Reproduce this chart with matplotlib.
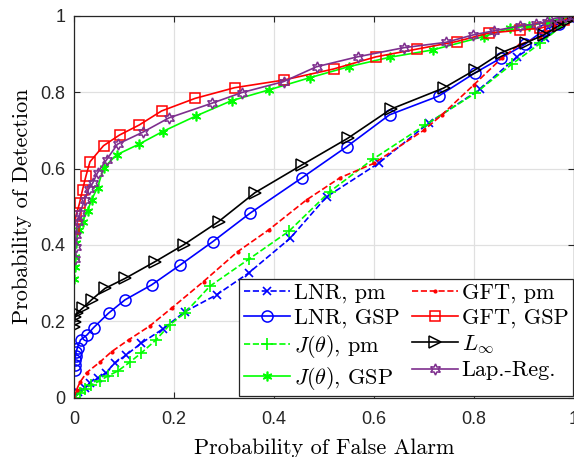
import numpy as np
import matplotlib
matplotlib.use("Agg")
import matplotlib.pyplot as plt

plt.rcParams['mathtext.fontset'] = 'cm'
plt.rcParams['font.family'] = ['Liberation Sans', 'DejaVu Sans']

# ROC curves (false alarm, detection)
lnr_pm_x = [0, 0.007, 0.021, 0.031, 0.047, 0.064, 0.081, 0.104, 0.134, 0.177, 0.222,
            0.285, 0.349, 0.432, 0.505, 0.609, 0.709, 0.812, 0.885, 0.942, 1.0]
lnr_pm_y = [0, 0.015, 0.024, 0.037, 0.050, 0.065, 0.090, 0.111, 0.142, 0.179, 0.225,
            0.269, 0.326, 0.417, 0.526, 0.614, 0.719, 0.808, 0.892, 0.942, 1.0]

lnr_gsp_x = [0.001, 0.001, 0.002, 0.003, 0.004, 0.007, 0.013, 0.026, 0.039, 0.069, 0.102,
             0.155, 0.212, 0.277, 0.352, 0.455, 0.545, 0.631, 0.729, 0.802, 0.853,
             0.902, 0.94, 0.97, 1.0]
lnr_gsp_y = [0.072, 0.085, 0.098, 0.109, 0.119, 0.131, 0.151, 0.164, 0.183, 0.221, 0.256,
             0.295, 0.347, 0.408, 0.483, 0.575, 0.657, 0.741, 0.790, 0.851, 0.889,
             0.926, 0.963, 0.98, 1.0]

j_pm_x = [0, 0.011, 0.021, 0.034, 0.051, 0.067, 0.087, 0.111, 0.134, 0.164, 0.191,
          0.222, 0.272, 0.349, 0.430, 0.511, 0.597, 0.702, 0.802, 0.875, 0.932, 1.0]
j_pm_y = [0, 0.011, 0.021, 0.033, 0.043, 0.056, 0.069, 0.092, 0.116, 0.151, 0.190,
          0.222, 0.292, 0.362, 0.436, 0.539, 0.624, 0.714, 0.797, 0.873, 0.928, 1.0]

j_gsp_x = [0, 0.001, 0.001, 0.004, 0.009, 0.017, 0.027, 0.035, 0.047, 0.059, 0.085,
           0.13, 0.177, 0.244, 0.315, 0.389, 0.471, 0.549, 0.632, 0.717, 0.819,
           0.872, 0.909, 0.95, 1.0]
j_gsp_y = [0.311, 0.343, 0.367, 0.404, 0.439, 0.461, 0.489, 0.518, 0.550, 0.601, 0.636,
           0.664, 0.697, 0.738, 0.778, 0.806, 0.838, 0.867, 0.892, 0.911, 0.946,
           0.968, 0.974, 0.985, 1.0]

gft_pm_x = [0, 0.005, 0.012, 0.025, 0.052, 0.075, 0.109, 0.151, 0.195, 0.259, 0.327,
            0.39, 0.465, 0.532, 0.60, 0.70, 0.735, 0.80, 0.855, 0.89, 0.932, 0.96, 1.0]
gft_pm_y = [0, 0.02, 0.04, 0.065, 0.093, 0.12, 0.151, 0.187, 0.234, 0.304, 0.382,
            0.44, 0.518, 0.576, 0.614, 0.701, 0.74, 0.82, 0.889, 0.924, 0.946, 0.97, 1.0]

gft_gsp_x = [0, 0.004, 0.011, 0.017, 0.024, 0.032, 0.059, 0.091, 0.13, 0.175, 0.242,
             0.321, 0.419, 0.519, 0.604, 0.685, 0.765, 0.829, 0.891, 0.932, 0.952, 0.98, 1.0]
gft_gsp_y = [0.442, 0.477, 0.509, 0.544, 0.581, 0.618, 0.660, 0.688, 0.714, 0.751, 0.784,
             0.812, 0.832, 0.861, 0.893, 0.913, 0.933, 0.955, 0.963, 0.968, 0.975, 0.99, 1.0]

linf_x = [0, 0.001, 0.002, 0.006, 0.017, 0.035, 0.062, 0.102, 0.162, 0.219, 0.289,
          0.362, 0.455, 0.547, 0.634, 0.739, 0.801, 0.855, 0.904, 0.939, 0.969, 0.989, 1.0]
linf_y = [0.185, 0.198, 0.211, 0.221, 0.234, 0.256, 0.286, 0.312, 0.356, 0.400, 0.461,
          0.537, 0.609, 0.679, 0.756, 0.811, 0.858, 0.904, 0.930, 0.950, 0.974, 0.990, 1.0]

lap_x = [0.001, 0.003, 0.004, 0.007, 0.012, 0.021, 0.029, 0.037, 0.047, 0.065, 0.087,
         0.137, 0.19, 0.275, 0.335, 0.419, 0.485, 0.567, 0.66, 0.744, 0.797, 0.839,
         0.892, 0.924, 0.945, 0.962, 0.982, 1.0]
lap_y = [0.362, 0.395, 0.426, 0.461, 0.483, 0.518, 0.546, 0.561, 0.589, 0.623, 0.664,
         0.695, 0.733, 0.771, 0.799, 0.828, 0.867, 0.893, 0.917, 0.931, 0.950, 0.961,
         0.974, 0.979, 0.985, 0.994, 0.998, 1.0]

purple = '#7E2F8E'
serif = 'cmr10'

fig = plt.figure(figsize=(5.74, 4.57), dpi=100)
ax = fig.add_axes([74 / 574, 59.5 / 457, 500 / 574, 381.5 / 457])

lw = 1.2
ax.plot(lnr_pm_x, lnr_pm_y, '--', color='blue', marker='x', ms=6, mew=1.2, lw=lw,
        label='LNR, pm')
ax.plot(lnr_gsp_x, lnr_gsp_y, '-', color='blue', marker='o', ms=8, mfc='none', mew=1.1, lw=lw,
        label='LNR, GSP')
ax.plot(j_pm_x, j_pm_y, '--', color='#00ff00', marker='+', ms=8, mew=1.2, lw=lw,
        label=r'$J(\theta)$, pm')
ax.plot(j_gsp_x, j_gsp_y, '-', color='#00ff00', marker=(6, 2, 0), ms=7, mew=1.2, lw=lw,
        label=r'$J(\theta)$, GSP')
ax.plot(gft_pm_x, gft_pm_y, '--', color='red', marker='.', ms=4, lw=lw,
        label='GFT, pm')
ax.plot(gft_gsp_x, gft_gsp_y, '-', color='red', marker='s', ms=7, mfc='none', mew=1.1, lw=lw,
        label='GFT, GSP')
ax.plot(linf_x, linf_y, '-', color='black', marker='>', ms=8, mfc='none', mew=1.1, lw=lw,
        label=r'$L_{\infty}$')
ax.plot(lap_x, lap_y, '-', color=purple, marker=(6, 1, 0), ms=8, mfc='none', mew=1.1, lw=lw,
        label='Lap.-Reg.')

ax.set_xlim(0, 1)
ax.set_ylim(0, 1)
ticks = [0, 0.2, 0.4, 0.6, 0.8, 1]
tick_labels = ['0', '0.2', '0.4', '0.6', '0.8', '1']
ax.set_xticks(ticks)
ax.set_xticklabels(tick_labels)
ax.set_yticks(ticks)
ax.set_yticklabels(tick_labels)
ax.tick_params(direction='in', length=4, labelsize=13, colors='#262626',
               top=True, right=True)
ax.tick_params(axis='x', pad=10)
ax.tick_params(axis='y', pad=6)
ax.grid(True, color='#e0e0e0', lw=0.9)
ax.set_axisbelow(True)
for s in ax.spines.values():
    s.set_color('#262626')
    s.set_linewidth(0.9)

ax.set_xlabel('Probability of False Alarm', fontsize=16, fontfamily=serif, labelpad=7)
ax.set_ylabel('Probability of Detection', fontsize=16, fontfamily=serif, labelpad=6)

leg = ax.legend(ncol=2, loc='lower right', prop={'family': serif, 'size': 16},
                frameon=True, fancybox=False, framealpha=1, edgecolor='#262626',
                borderpad=0.2, labelspacing=0.22, handlelength=2.1, handletextpad=0.15,
                columnspacing=0.55, borderaxespad=0.05)
leg.get_frame().set_linewidth(0.9)

fig.savefig('out.png', dpi=100)
